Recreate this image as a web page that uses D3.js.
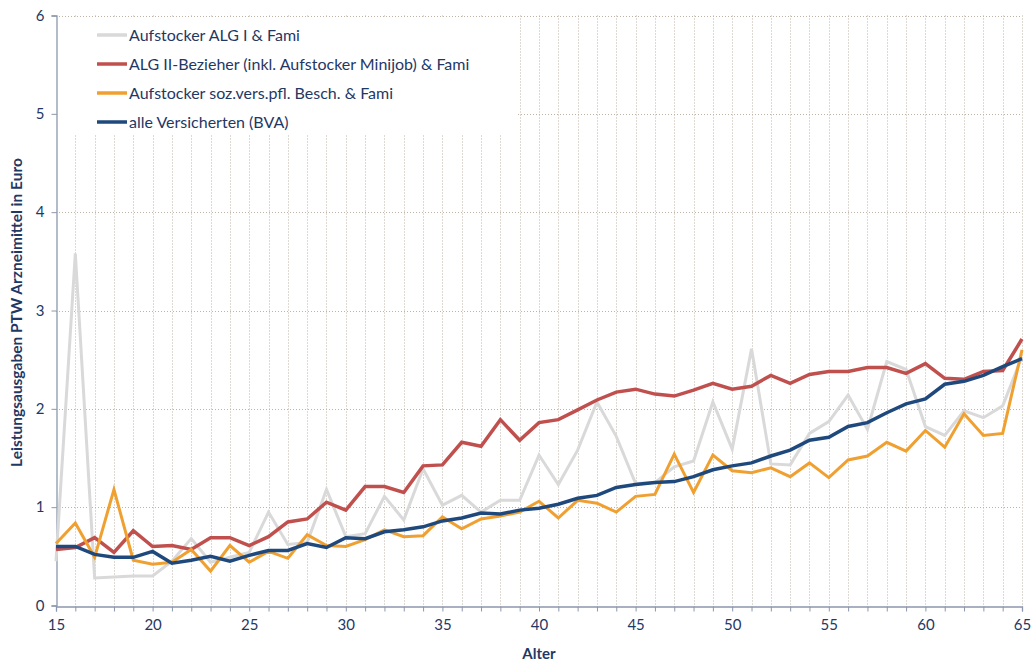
<!DOCTYPE html>
<meta charset="utf-8">
<style>
body { margin: 0; background: #fff; }
text { font-family: Lato, "Open Sans", sans-serif; }
</style>
<body>
<script src="https://cdn.jsdelivr.net/npm/d3@7"></script>
<script>

// ages 15..65
var ages = d3.range(15, 66);

var seriesNames = [
  "Aufstocker ALG I & Fami",
  "ALG II-Bezieher (inkl. Aufstocker Minijob) & Fami",
  "Aufstocker soz.vers.pfl. Besch. & Fami",
  "alle Versicherten (BVA)"
];

var algI = [0.45, 3.58, 0.28, 0.29, 0.30, 0.30, 0.45, 0.68, 0.44, 0.49,
  0.54, 0.95, 0.62, 0.64, 1.18, 0.70, 0.73, 1.11, 0.87, 1.39,
  1.02, 1.12, 0.95, 1.07, 1.07, 1.53, 1.23, 1.58, 2.07, 1.72,
  1.24, 1.25, 1.41, 1.47, 2.07, 1.59, 2.61, 1.44, 1.43, 1.75,
  1.87, 2.14, 1.79, 2.48, 2.40, 1.82, 1.73, 1.98, 1.91, 2.03, 2.53];

var algII = [0.57, 0.59, 0.69, 0.54, 0.76, 0.60, 0.61, 0.57, 0.69, 0.69,
  0.61, 0.70, 0.85, 0.88, 1.05, 0.97, 1.21, 1.21, 1.15, 1.42,
  1.43, 1.66, 1.62, 1.89, 1.68, 1.86, 1.89, 1.99, 2.09, 2.17,
  2.20, 2.15, 2.13, 2.19, 2.26, 2.20, 2.23, 2.34, 2.26, 2.35,
  2.38, 2.38, 2.42, 2.42, 2.36, 2.46, 2.31, 2.30, 2.38, 2.39, 2.71];

var sozVers = [0.63, 0.84, 0.49, 1.18, 0.46, 0.42, 0.44, 0.57, 0.35, 0.61,
  0.44, 0.55, 0.48, 0.72, 0.61, 0.60, 0.67, 0.77, 0.70, 0.71,
  0.90, 0.78, 0.88, 0.91, 0.95, 1.06, 0.89, 1.07, 1.04, 0.95,
  1.11, 1.13, 1.54, 1.15, 1.53, 1.37, 1.35, 1.40, 1.31, 1.45,
  1.30, 1.48, 1.52, 1.66, 1.57, 1.78, 1.61, 1.95, 1.73, 1.75, 2.60];

var alle = [0.60, 0.60, 0.52, 0.49, 0.49, 0.55, 0.43, 0.46, 0.50, 0.45,
  0.51, 0.56, 0.56, 0.63, 0.59, 0.69, 0.68, 0.75, 0.77, 0.80,
  0.86, 0.89, 0.94, 0.93, 0.97, 0.99, 1.03, 1.09, 1.12, 1.20,
  1.23, 1.25, 1.26, 1.31, 1.38, 1.42, 1.45, 1.52, 1.58, 1.68,
  1.71, 1.82, 1.86, 1.96, 2.05, 2.10, 2.25, 2.28, 2.34, 2.43, 2.51];

var xTicks = [15, 20, 25, 30, 35, 40, 45, 50, 55, 60, 65];
var yTicks = [0, 1, 2, 3, 4, 5, 6];

var colors = ["#d9d9d9", "#c0504d", "#f0a030", "#1f497d"];
var widths = [3, 3.5, 3, 3.5];
var textColor = "#1f3864";

var W = 1035, H = 663;
var svg = d3.select("body").append("svg")
    .attr("width", W)
    .attr("height", H);

var x = d3.scaleLinear().domain([15, 65]).range([56, 1022]);
var y = d3.scaleLinear().domain([0, 6]).range([605.5, 15.5]);

// grid
var grid = svg.append("g").attr("class", "grid")
    .attr("stroke", "#bdb4a6")
    .attr("stroke-width", 1)
    .attr("stroke-dasharray", "1,2");

grid.selectAll(".vg")
  .data(ages.slice(1))
  .enter().append("line")
    .attr("x1", function(d) { return Math.round(x(d)) + 0.5; })
    .attr("x2", function(d) { return Math.round(x(d)) + 0.5; })
    .attr("y1", y(6))
    .attr("y2", y(0));

grid.selectAll(".hg")
  .data(yTicks.slice(1))
  .enter().append("line")
    .attr("x1", x(15))
    .attr("x2", x(65))
    .attr("y1", function(d) { return Math.round(y(d)) + 0.5; })
    .attr("y2", function(d) { return Math.round(y(d)) + 0.5; });

// axes
var xAxis = svg.append("g")
    .attr("transform", "translate(0," + (Math.round(y(0)) + 0.5) + ")")
    .call(d3.axisBottom(x).tickValues(ages).tickSize(5).tickFormat(function(d) {
      return xTicks.indexOf(d) >= 0 ? d : "";
    }));

var yAxis = svg.append("g")
    .attr("transform", "translate(" + (Math.round(x(15)) + 0.5) + ",0)")
    .call(d3.axisLeft(y).tickValues(yTicks).tickSize(5).tickFormat(d3.format("d")));

[xAxis, yAxis].forEach(function(a) {
  a.select(".domain").attr("stroke", "#8c97ad").attr("stroke-width", 1.3);
  a.selectAll(".tick line").attr("stroke", "#8c97ad");
  a.selectAll(".tick text")
    .attr("fill", textColor)
    .style("font-size", "15px")
    .style("font-family", "Lato, sans-serif");
});
xAxis.selectAll(".tick text").attr("dy", "1.05em");
yAxis.selectAll(".tick text").attr("dx", "-4px");

// legend background
svg.append("rect")
    .attr("x", 58)
    .attr("y", 17)
    .attr("width", 458)
    .attr("height", 117)
    .attr("fill", "#fff");

// lines
var allSeries = [algI, algII, sozVers, alle];
var line = d3.line()
    .x(function(d, i) { return x(ages[i]); })
    .y(function(d) { return y(d); });

svg.append("g").attr("class", "lines")
  .selectAll("path")
  .data(allSeries)
  .enter().append("path")
    .attr("d", line)
    .attr("fill", "none")
    .attr("stroke", function(d, i) { return colors[i]; })
    .attr("stroke-width", function(d, i) { return widths[i]; })
    .attr("stroke-linejoin", "miter");

// legend
var legend = svg.append("g").attr("class", "legend");
var rows = legend.selectAll("g")
  .data(seriesNames)
  .enter().append("g")
    .attr("transform", function(d, i) { return "translate(97," + (35 + i * 29) + ")"; });

rows.append("line")
    .attr("x1", 0)
    .attr("x2", 30)
    .attr("stroke", function(d, i) { return colors[i]; })
    .attr("stroke-width", 3.5);

rows.append("text")
    .attr("x", 32)
    .attr("dy", "0.35em")
    .attr("fill", textColor)
    .style("font-size", "16px")
    .text(function(d) { return d; });

// axis titles
svg.append("text")
    .attr("x", x(40))
    .attr("y", 659)
    .attr("text-anchor", "middle")
    .attr("fill", textColor)
    .style("font-size", "15px")
    .style("font-weight", "bold")
    .text("Alter");

svg.append("text")
    .attr("transform", "translate(22," + (y(3) + 2) + ") rotate(-90)")
    .attr("text-anchor", "middle")
    .attr("fill", textColor)
    .style("font-size", "15.5px")
    .style("font-weight", "bold")
    .text("Leistungsausgaben PTW Arzneimittel in Euro");

</script>
</body>
